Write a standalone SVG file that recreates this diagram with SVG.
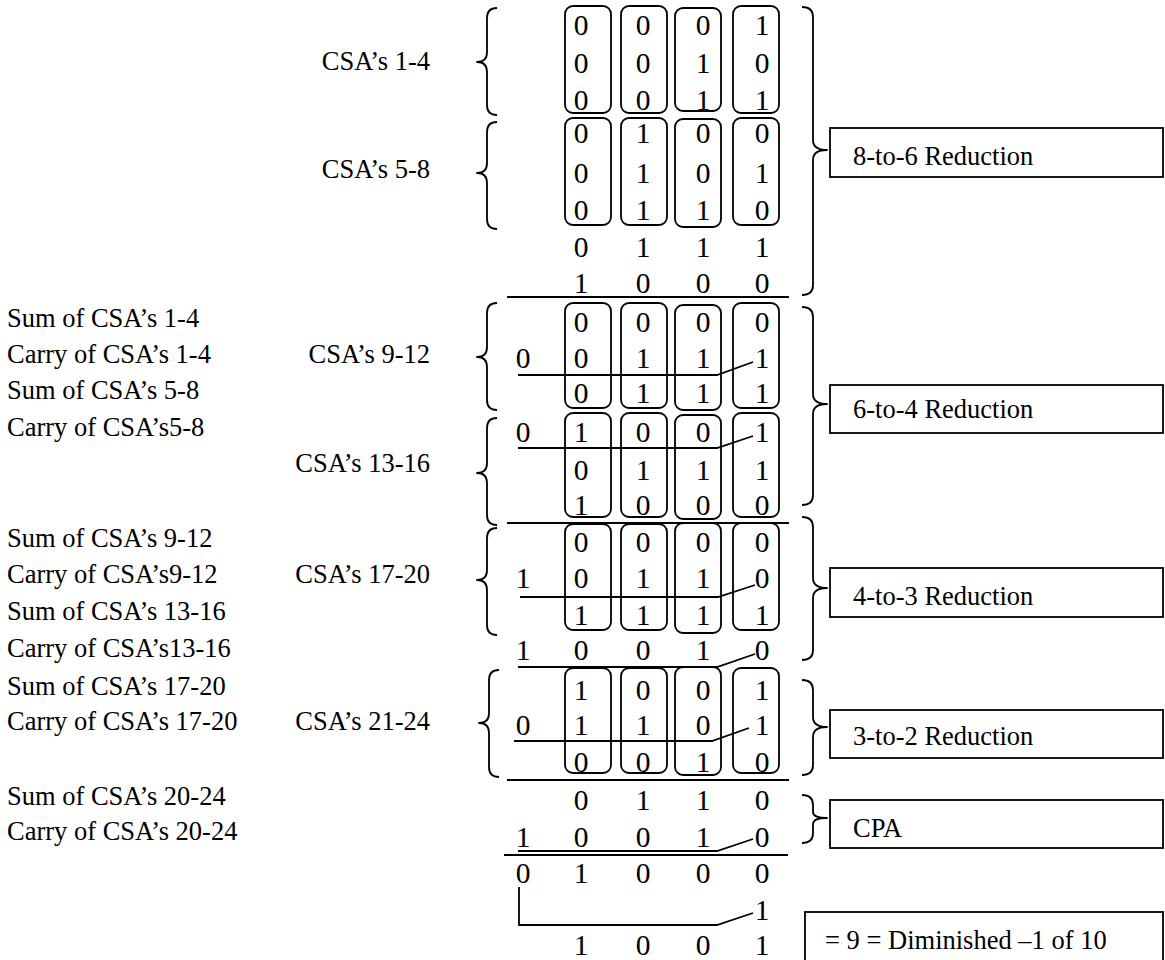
<svg xmlns="http://www.w3.org/2000/svg" width="1165" height="960" viewBox="0 0 1165 960" font-family="'Liberation Serif', 'Times New Roman', serif">
<style>
text{font-family:"Liberation Serif","Times New Roman",serif;font-size:26.5px;fill:#000}
.d{text-anchor:middle;font-size:29.5px}
.r{text-anchor:end}
.bx{fill:none;stroke:#000;stroke-width:1.8}
.ln{fill:none;stroke:#000;stroke-width:1.8}
.br{fill:none;stroke:#000;stroke-width:1.8;stroke-linejoin:round}
.lb{fill:#fff;stroke:#000;stroke-width:1.8}
</style>
<rect width="1165" height="960" fill="#fff"/>

<g id="labels-left">
<text x="430" y="70" class="r">CSA’s 1-4</text>
<text x="430" y="178" class="r">CSA’s 5-8</text>
<text x="7" y="327">Sum of CSA’s 1-4</text>
<text x="7" y="363">Carry of CSA’s 1-4</text>
<text x="430" y="363" class="r">CSA’s 9-12</text>
<text x="7" y="399">Sum of CSA’s 5-8</text>
<text x="7" y="436">Carry of CSA’s5-8</text>
<text x="430" y="472" class="r">CSA’s 13-16</text>
<text x="7" y="547">Sum of CSA’s 9-12</text>
<text x="7" y="583">Carry of CSA’s9-12</text>
<text x="430" y="583" class="r">CSA’s 17-20</text>
<text x="7" y="620">Sum of CSA’s 13-16</text>
<text x="7" y="657">Carry of CSA’s13-16</text>
<text x="7" y="695">Sum of CSA’s 17-20</text>
<text x="7" y="730">Carry of CSA’s 17-20</text>
<text x="430" y="730" class="r">CSA’s 21-24</text>
<text x="7" y="805">Sum of CSA’s 20-24</text>
<text x="7" y="840">Carry of CSA’s 20-24</text>
</g>

<g id="left-braces">
<path class="br" d="M497,8 Q487,8 487,18 L487,52 Q487,62 477,62 Q487,62 487,72 L487,105 Q487,115 497,115"/>
<path class="br" d="M497,122 Q487,122 487,132 L487,163 Q487,173 477,173 Q487,173 487,183 L487,219 Q487,229 497,229"/>
<path class="br" d="M497,303 Q487,303 487,313 L487,347 Q487,357 477,357 Q487,357 487,367 L487,400 Q487,410 497,410"/>
<path class="br" d="M497,418 Q487,418 487,428 L487,463 Q487,473 477,473 Q487,473 487,483 L487,515 Q487,525 497,525"/>
<path class="br" d="M497,528 Q487,528 487,538 L487,570 Q487,580 477,580 Q487,580 487,590 L487,625 Q487,635 497,635"/>
<path class="br" d="M499,670 Q489,670 489,680 L489,713 Q489,723 479,723 Q489,723 489,733 L489,767 Q489,777 499,777"/>
</g>

<g id="csa-boxes">
<rect class="bx" x="565" y="6" width="46" height="107" rx="8"/>
<rect class="bx" x="621" y="6" width="46" height="107" rx="8"/>
<rect class="bx" x="675" y="8" width="46" height="103" rx="8"/>
<rect class="bx" x="733" y="6" width="46" height="107" rx="8"/>

<rect class="bx" x="565" y="118" width="46" height="107" rx="8"/>
<rect class="bx" x="621" y="118" width="46" height="107" rx="8"/>
<rect class="bx" x="675" y="119" width="46" height="108" rx="8"/>
<rect class="bx" x="733" y="118" width="46" height="107" rx="8"/>

<rect class="bx" x="565" y="303" width="46" height="105" rx="8"/>
<rect class="bx" x="621" y="303" width="46" height="105" rx="8"/>
<rect class="bx" x="675" y="305" width="46" height="105" rx="8"/>
<rect class="bx" x="733" y="303" width="46" height="105" rx="8"/>

<rect class="bx" x="565" y="413" width="46" height="104" rx="8"/>
<rect class="bx" x="621" y="413" width="46" height="104" rx="8"/>
<rect class="bx" x="675" y="415" width="46" height="104" rx="8"/>
<rect class="bx" x="733" y="413" width="46" height="104" rx="8"/>

<rect class="bx" x="565" y="524" width="46" height="106" rx="8"/>
<rect class="bx" x="621" y="524" width="46" height="106" rx="8"/>
<rect class="bx" x="675" y="523" width="46" height="110" rx="8"/>
<rect class="bx" x="733" y="523" width="46" height="107" rx="8"/>

<rect class="bx" x="565" y="668" width="46" height="105" rx="8"/>
<rect class="bx" x="621" y="668" width="46" height="105" rx="8"/>
<rect class="bx" x="675" y="667" width="46" height="108" rx="8"/>
<rect class="bx" x="733" y="668" width="46" height="105" rx="8"/>
</g>

<g id="digits">
<text class="d" x="581" y="35">0</text><text class="d" x="643" y="35">0</text><text class="d" x="703" y="35">0</text><text class="d" x="762" y="35">1</text>
<text class="d" x="581" y="73">0</text><text class="d" x="643" y="73">0</text><text class="d" x="703" y="73">1</text><text class="d" x="762" y="73">0</text>
<text class="d" x="581" y="110">0</text><text class="d" x="643" y="110">0</text><text class="d" x="703" y="110">1</text><text class="d" x="762" y="110">1</text>

<text class="d" x="581" y="143">0</text><text class="d" x="643" y="143">1</text><text class="d" x="703" y="143">0</text><text class="d" x="762" y="143">0</text>
<text class="d" x="581" y="183">0</text><text class="d" x="643" y="183">1</text><text class="d" x="703" y="183">0</text><text class="d" x="762" y="183">1</text>
<text class="d" x="581" y="220">0</text><text class="d" x="643" y="220">1</text><text class="d" x="703" y="220">1</text><text class="d" x="762" y="220">0</text>

<text class="d" x="581" y="257">0</text><text class="d" x="643" y="257">1</text><text class="d" x="703" y="257">1</text><text class="d" x="762" y="257">1</text>
<text class="d" x="581" y="293">1</text><text class="d" x="643" y="293">0</text><text class="d" x="703" y="293">0</text><text class="d" x="762" y="293">0</text>

<text class="d" x="581" y="332">0</text><text class="d" x="643" y="332">0</text><text class="d" x="703" y="332">0</text><text class="d" x="762" y="332">0</text>
<text class="d" x="523" y="368">0</text><text class="d" x="581" y="368">0</text><text class="d" x="643" y="368">1</text><text class="d" x="703" y="368">1</text><text class="d" x="762" y="368">1</text>
<text class="d" x="581" y="403">0</text><text class="d" x="643" y="403">1</text><text class="d" x="703" y="403">1</text><text class="d" x="762" y="403">1</text>

<text class="d" x="523" y="442">0</text><text class="d" x="581" y="442">1</text><text class="d" x="643" y="442">0</text><text class="d" x="703" y="442">0</text><text class="d" x="762" y="442">1</text>
<text class="d" x="581" y="480">0</text><text class="d" x="643" y="480">1</text><text class="d" x="703" y="480">1</text><text class="d" x="762" y="480">1</text>
<text class="d" x="581" y="515">1</text><text class="d" x="643" y="515">0</text><text class="d" x="703" y="515">0</text><text class="d" x="762" y="515">0</text>

<text class="d" x="581" y="552">0</text><text class="d" x="643" y="552">0</text><text class="d" x="703" y="552">0</text><text class="d" x="762" y="552">0</text>
<text class="d" x="523" y="588">1</text><text class="d" x="581" y="588">0</text><text class="d" x="643" y="588">1</text><text class="d" x="703" y="588">1</text><text class="d" x="762" y="588">0</text>
<text class="d" x="581" y="625">1</text><text class="d" x="643" y="625">1</text><text class="d" x="703" y="625">1</text><text class="d" x="762" y="625">1</text>

<text class="d" x="523" y="660">1</text><text class="d" x="581" y="660">0</text><text class="d" x="643" y="660">0</text><text class="d" x="703" y="660">1</text><text class="d" x="762" y="660">0</text>

<text class="d" x="581" y="700">1</text><text class="d" x="643" y="700">0</text><text class="d" x="703" y="700">0</text><text class="d" x="762" y="700">1</text>
<text class="d" x="523" y="735">0</text><text class="d" x="581" y="735">1</text><text class="d" x="643" y="735">1</text><text class="d" x="703" y="735">0</text><text class="d" x="762" y="735">1</text>
<text class="d" x="581" y="772">0</text><text class="d" x="643" y="772">0</text><text class="d" x="703" y="772">1</text><text class="d" x="762" y="772">0</text>

<text class="d" x="581" y="810">0</text><text class="d" x="643" y="810">1</text><text class="d" x="703" y="810">1</text><text class="d" x="762" y="810">0</text>
<text class="d" x="523" y="847">1</text><text class="d" x="581" y="847">0</text><text class="d" x="643" y="847">0</text><text class="d" x="703" y="847">1</text><text class="d" x="762" y="847">0</text>

<text class="d" x="523" y="883">0</text><text class="d" x="581" y="883">1</text><text class="d" x="643" y="883">0</text><text class="d" x="703" y="883">0</text><text class="d" x="762" y="883">0</text>
<text class="d" x="762" y="920">1</text>
<text class="d" x="581" y="955">1</text><text class="d" x="643" y="955">0</text><text class="d" x="703" y="955">0</text><text class="d" x="762" y="955">1</text>
</g>

<g id="connectors">
<line class="ln" x1="507" y1="297" x2="789" y2="297"/>
<line class="ln" x1="507" y1="523" x2="789" y2="523"/>
<line class="ln" x1="507" y1="780" x2="789" y2="780"/>
<line class="ln" x1="504" y1="855" x2="788" y2="855"/>
<polyline class="ln" points="518,375 717,375 753,362"/>
<polyline class="ln" points="518,448 717,448 753,436"/>
<polyline class="ln" points="520,597 718,597 755,585"/>
<polyline class="ln" points="518,667 717,667 755,654"/>
<polyline class="ln" points="514,741 712,741 749,728"/>
<polyline class="ln" points="518,851 717,851 753,839"/>
<polyline class="ln" points="519,887 519,925 717,925 753,913"/>
</g>

<g id="right-braces">
<path class="br" d="M802,7 Q813,7 813,17 L813,140 Q813,150 827,150 Q813,150 813,160 L813,285 Q813,295 802,295"/>
<path class="br" d="M802,307 Q813,307 813,317 L813,394 Q813,404 827,404 Q813,404 813,414 L813,495 Q813,505 802,505"/>
<path class="br" d="M802,517 Q813,517 813,527 L813,578 Q813,588 827,588 Q813,588 813,598 L813,650 Q813,660 802,660"/>
<path class="br" d="M802,680 Q813,680 813,690 L813,717 Q813,727 827,727 Q813,727 813,737 L813,765 Q813,775 802,775"/>
<path class="br" d="M802,795 Q813,795 813,805 L813,812 Q813,818 827,818 Q813,818 813,824 L813,833 Q813,843 802,843"/>
</g>

<g id="box-8to6"><rect class="lb" x="830" y="128" width="333" height="49"/><text x="853" y="165">8-to-6 Reduction</text></g>
<g id="box-6to4"><rect class="lb" x="830" y="385" width="333" height="48"/><text x="853" y="418">6-to-4 Reduction</text></g>
<g id="box-4to3"><rect class="lb" x="830" y="568" width="333" height="49"/><text x="853" y="605">4-to-3 Reduction</text></g>
<g id="box-3to2"><rect class="lb" x="830" y="710" width="333" height="48"/><text x="853" y="745">3-to-2 Reduction</text></g>
<g id="box-cpa"><rect class="lb" x="830" y="800" width="333" height="48"/><text x="853" y="837">CPA</text></g>
<g id="box-result"><rect class="lb" x="805" y="912" width="358" height="55"/><text x="825" y="949">= 9 = Diminished –1 of 10</text></g>
</svg>
